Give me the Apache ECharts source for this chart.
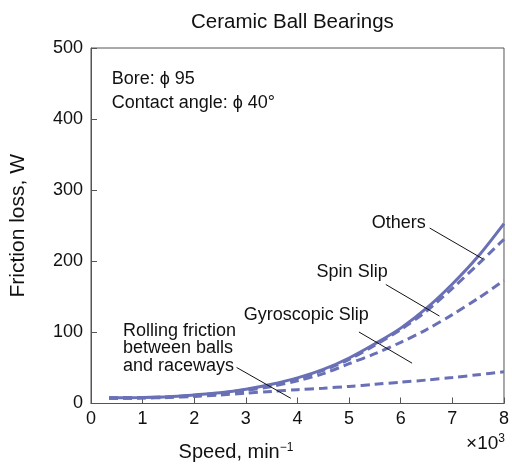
<!DOCTYPE html>
<html><head><meta charset="utf-8">
<script src="https://cdn.jsdelivr.net/npm/echarts@6/dist/echarts.min.js"></script>
<style>html,body{margin:0;padding:0;background:#fff}#c{width:512px;height:467px}</style>
</head><body><div id="c"></div>
<script>
var speeds = [0.35, 1, 1.5, 2, 2.5, 3, 3.5, 4, 4.5, 5, 5.5, 6, 6.5, 7, 7.5, 8];
var totalLoss = [8, 8.5, 9.5, 12, 15, 20, 27, 36, 48, 64, 84, 106, 134, 168, 207, 253];
var spinCum = [7.8, 8.3, 9.2, 11.6, 14.6, 19.5, 26.3, 35, 46.5, 62, 82, 104, 130, 162, 196, 231];
var gyroCum = [7.6, 8.1, 9, 11, 14, 18.5, 24, 32, 42, 56, 70, 86, 104, 125, 148, 173];
var rollingLoss = [7.4, 7.6, 8.4, 10, 12, 14.5, 17, 19.5, 21.5, 24, 27, 30, 33, 36.5, 40.5, 44.5];
var xTicks = [0, 1, 2, 3, 4, 5, 6, 7, 8];
var yTicks = [0, 100, 200, 300, 400, 500];

var COLOR = '#6970b6';
var FONT = 'Liberation Sans, Arial, sans-serif';
function pairs(v) { return speeds.map(function (x, i) { return [x, v[i]]; }); }

var chart = echarts.init(document.getElementById('c'), null, { renderer: 'canvas' });
var lineSeries = function (name, data, dashed) {
  return {
    name: name, type: 'line', data: pairs(data), smooth: 0.3, symbol: 'none',
    lineStyle: { color: COLOR, width: 3, type: dashed ? [9, 5] : 'solid' },
    z: dashed ? 3 : 4, silent: true
  };
};

chart.setOption({
  animation: false,
  title: {
    text: 'Ceramic Ball Bearings', left: 186, top: 7,
    textStyle: { fontFamily: FONT, fontSize: 20.5, fontWeight: 'normal', color: '#111' }
  },
  grid: { left: 89, right: 4, top: 48, bottom: 63, show: true, borderColor: '#555', borderWidth: 1 },
  xAxis: {
    type: 'value', min: 0, max: 8, interval: 1,
    axisLine: { lineStyle: { color: '#555', width: 1 } },
    axisTick: { inside: true, length: 6, lineStyle: { color: '#555' } },
    axisLabel: { fontFamily: FONT, fontSize: 18, color: '#111', margin: 7,
      formatter: function (v) { return xTicks.indexOf(v) >= 0 ? String(v) : ''; } },
    splitLine: { show: false },
    name: 'Speed, min{sup|−1}', nameLocation: 'middle', nameGap: 38,
    nameTextStyle: { fontFamily: FONT, fontSize: 20, color: '#111', padding: [0, 0, 0, -123],
      rich: { sup: { fontFamily: FONT, fontSize: 12, verticalAlign: 'top', padding: [0, 0, 9, 0], color: '#111' } } }
  },
  yAxis: {
    type: 'value', min: 0, max: 500, interval: 100,
    axisLine: { lineStyle: { color: '#555', width: 1 } },
    axisTick: { show: true, inside: true, length: 6, lineStyle: { color: '#555' } },
    axisLabel: { fontFamily: FONT, fontSize: 18, color: '#111', margin: 8,
      formatter: function (v) { return yTicks.indexOf(v) >= 0 ? String(v) : ''; } },
    splitLine: { show: false },
    name: 'Friction loss, W', nameLocation: 'middle', nameGap: 62, nameRotate: 90,
    nameTextStyle: { fontFamily: FONT, fontSize: 21, color: '#111' }
  },
  series: [
    lineSeries('Total', totalLoss, false),
    lineSeries('Spin Slip', spinCum, true),
    lineSeries('Gyroscopic Slip', gyroCum, true),
    lineSeries('Rolling friction', rollingLoss, true)
  ]
});

// annotations (data coordinates)
var leaders = [
  [[6.56, 246.8], [7.59, 203.4]],
  [[5.71, 167.4], [6.75, 123]],
  [[5.19, 100.6], [6.22, 56.7]],
  [[2.82, 50.7], [3.87, 7.3]]
];
var labels = [
  { t: 'Others', at: [5.44, 254.2] },
  { t: 'Spin Slip', at: [4.37, 185.5] },
  { t: 'Gyroscopic Slip', at: [2.96, 124.0] },
  { t: 'Rolling friction\nbetween balls\nand raceways', at: [0.62, 77.5] },
  { t: 'Bore: ϕ 95', at: [0.40, 455.8] },
  { t: 'Contact angle: ϕ 40°', at: [0.40, 422.2] }
];
var g = [];
leaders.forEach(function (l) {
  var a = chart.convertToPixel({ gridIndex: 0 }, l[0]);
  var b = chart.convertToPixel({ gridIndex: 0 }, l[1]);
  g.push({ type: 'line', shape: { x1: a[0], y1: a[1], x2: b[0], y2: b[1] },
    style: { stroke: '#111', lineWidth: 1 }, z: 10 });
});
labels.forEach(function (l) {
  var p = chart.convertToPixel({ gridIndex: 0 }, l.at);
  g.push({ type: 'text', x: p[0], y: p[1], z: 10,
    style: { text: l.t, fill: '#111', font: '18px ' + FONT, textAlign: 'left', textVerticalAlign: 'middle', lineHeight: 17.8 } });
});
// x10^3 multiplier
var m = chart.convertToPixel({ gridIndex: 0 }, [8, 0]);
g.push({ type: 'text', x: m[0] + 1, y: m[1] + 40, z: 10,
  style: { text: '×10{sup|3}', fill: '#111', font: '19px ' + FONT, textAlign: 'right', textVerticalAlign: 'middle',
    rich: { sup: { fontSize: 12, fontFamily: FONT, verticalAlign: 'top', padding: [0, 0, 9, 0], fill: '#111' } } } });
chart.setOption({ graphic: g });
</script></body></html>
